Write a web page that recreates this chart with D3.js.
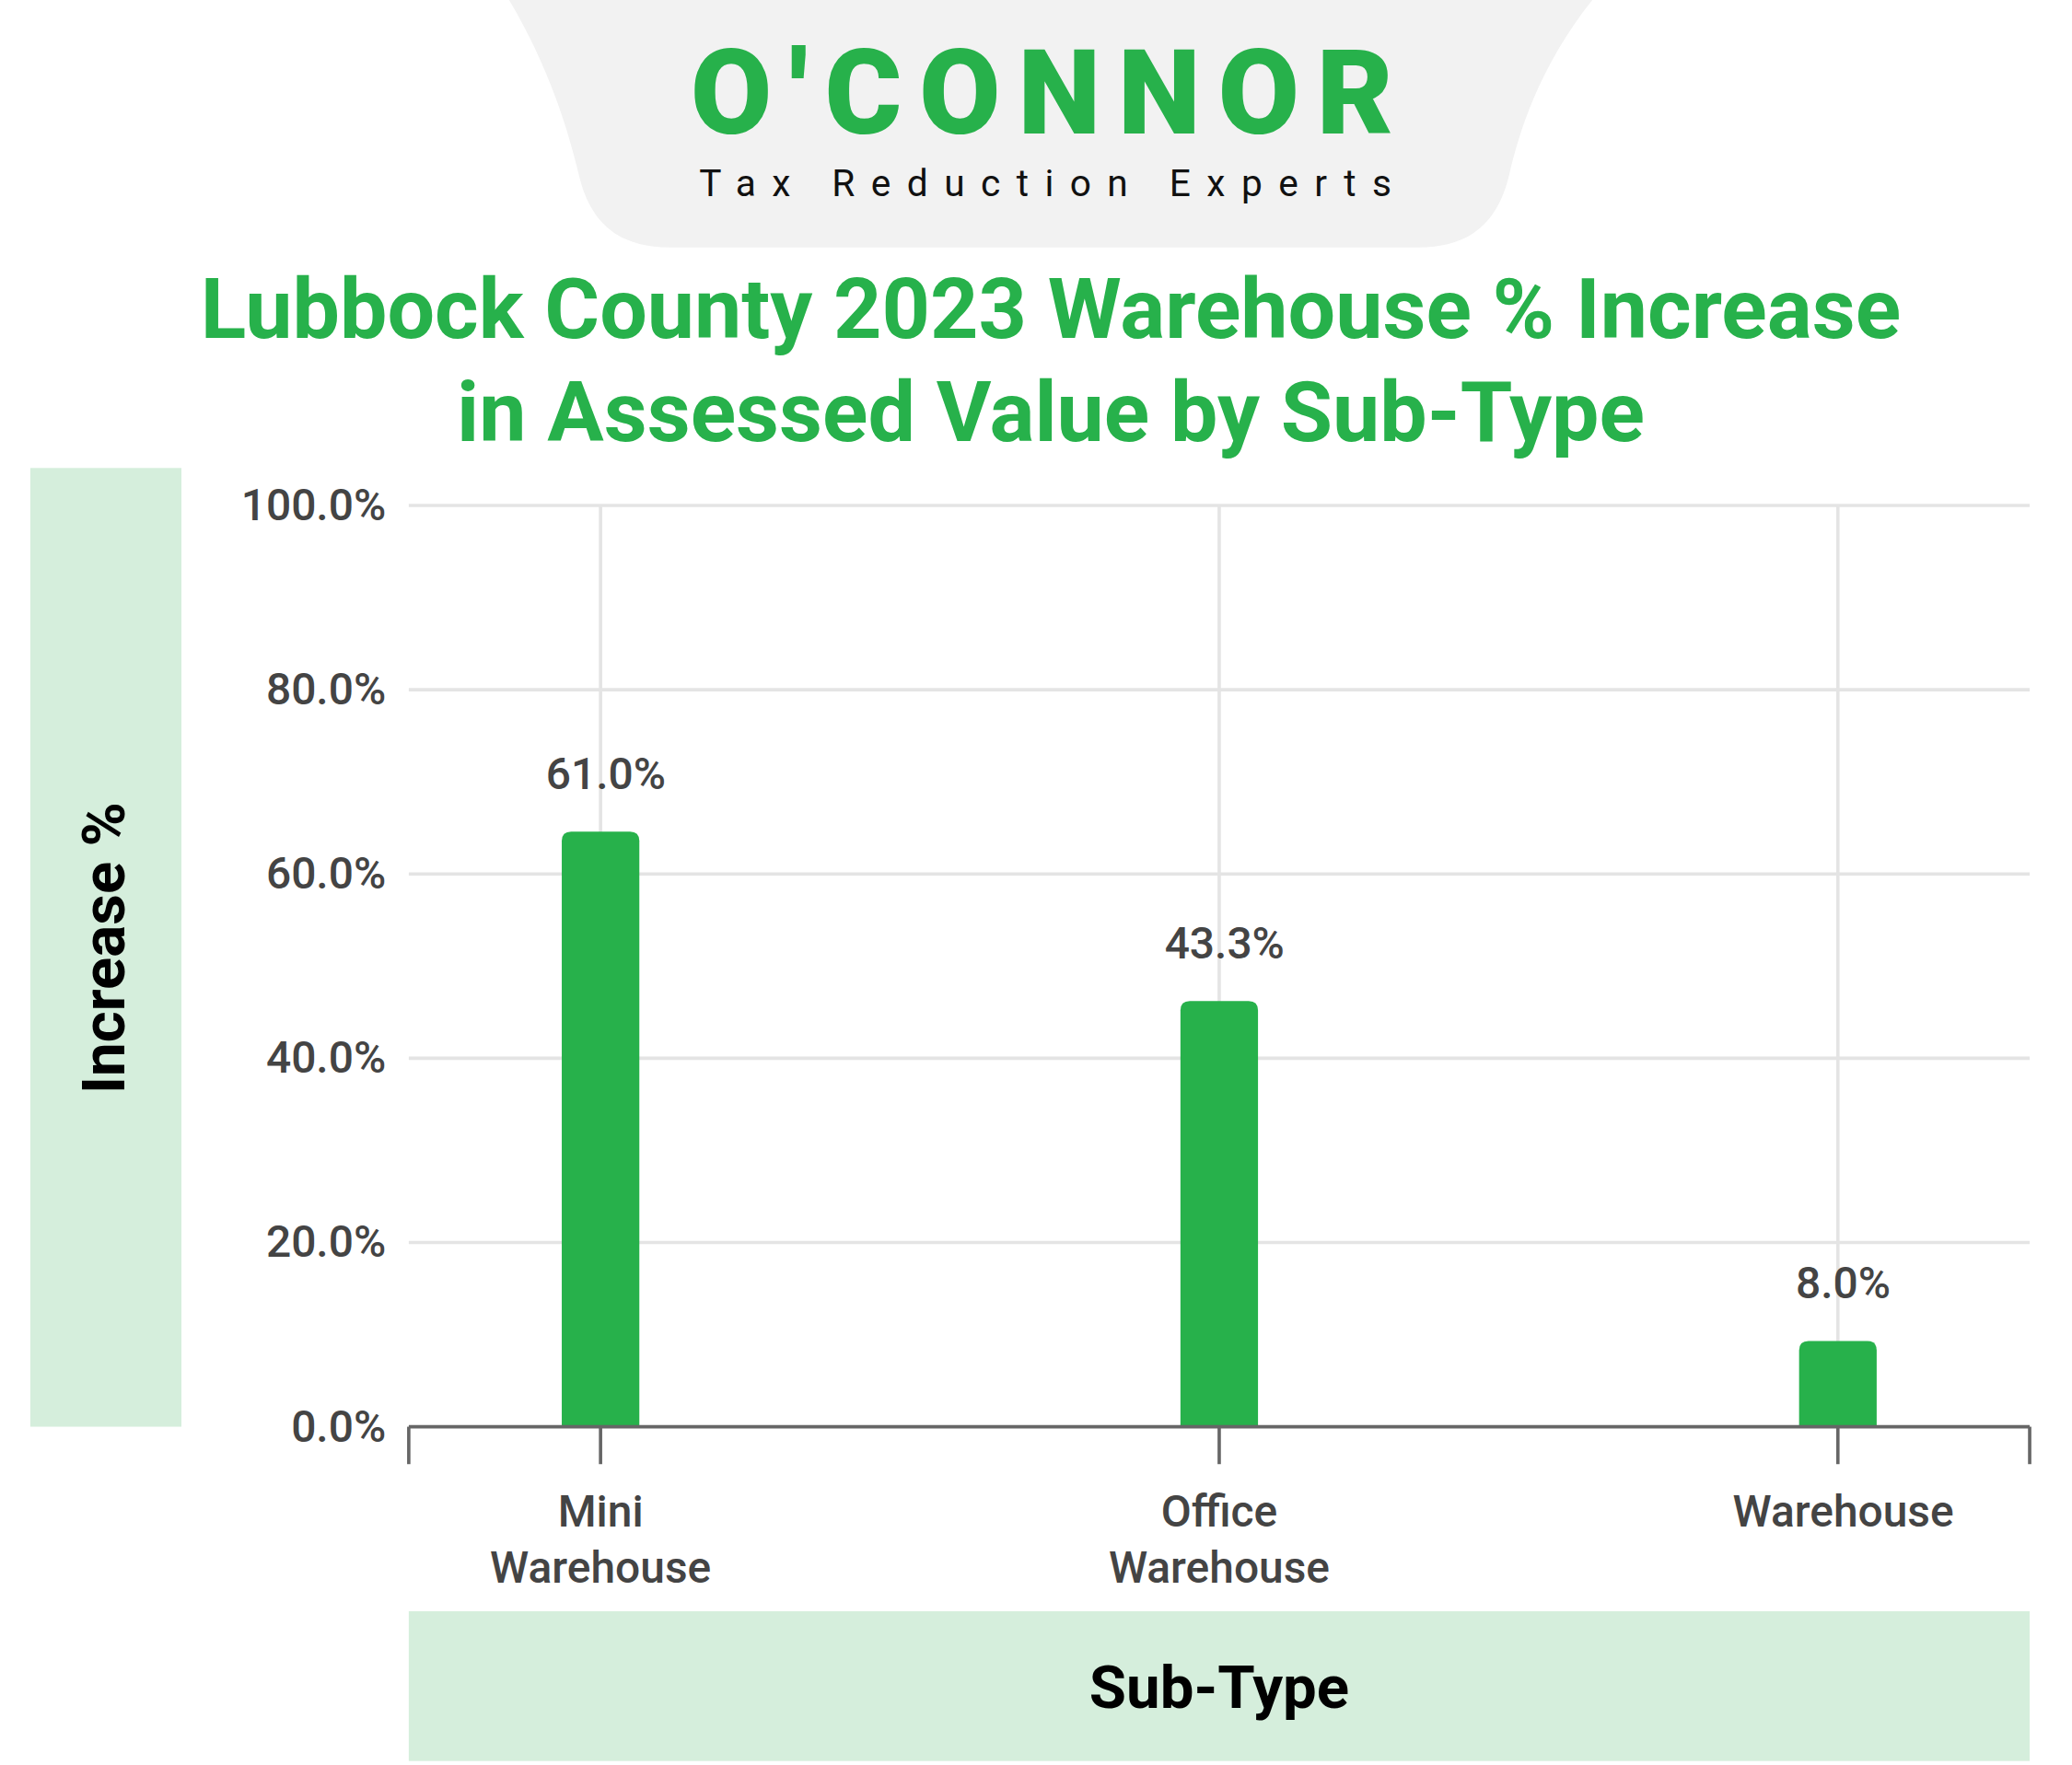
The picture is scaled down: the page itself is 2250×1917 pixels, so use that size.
<!DOCTYPE html>
<html><head><meta charset="utf-8">
<script src="https://cdn.jsdelivr.net/npm/d3@7"></script>
<style>body{margin:0;background:#fff}</style>
</head><body>
<div id="chart"></div>
<script>
const categories = [["Mini", "Warehouse"], ["Office", "Warehouse"], ["Warehouse"]];
const barValues = [64.6, 46.2, 9.3];      // bar heights as drawn
const valueLabels = ["61.0%", "43.3%", "8.0%"];
const yTicks = [0, 20, 40, 60, 80, 100];

const W = 1548, H = 1320;
const green = "#27b14b", pale = "#d5eedc";
const svg = d3.select("#chart").append("svg")
    .attr("width", 2250).attr("height", 1917)
    .attr("viewBox", `0 0 ${W} ${H}`)
    .style("font-family", "Roboto, sans-serif");

/* logo header */
svg.append("path")
    .attr("d", "M380,0 L1190,0 C1150,50 1135,100 1128,130 C1120,165 1100,185 1060,185 L500,185 C460,185 440,165 432,130 C425,100 410,50 380,0 Z")
    .attr("fill", "#f2f2f2");
svg.append("text").attr("x", 785).attr("y", 100).attr("text-anchor", "middle")
    .attr("font-size", 88).attr("font-weight", 900).attr("fill", green)
    .attr("letter-spacing", 13).text("O'CONNOR");
svg.append("text").attr("x", 787).attr("y", 147).attr("text-anchor", "middle")
    .attr("font-size", 28).attr("fill", "#111").attr("letter-spacing", 12)
    .text("Tax Reduction Experts");

/* title */
const title = svg.append("text").attr("text-anchor", "middle")
    .attr("font-size", 63).attr("font-weight", 700).attr("fill", green);
title.append("tspan").attr("x", 785).attr("y", 253).text("Lubbock County 2023 Warehouse % Increase");
title.append("tspan").attr("x", 785).attr("y", 330).text("in Assessed Value by Sub-Type");

/* axis title boxes */
svg.append("rect").attr("x", 22).attr("y", 350).attr("width", 113).attr("height", 717).attr("fill", pale);
svg.append("text").attr("transform", "translate(92,709) rotate(-90)").attr("text-anchor", "middle")
    .attr("font-size", 45).attr("font-weight", 700).attr("fill", "#000").text("Increase %");
svg.append("rect").attr("x", 305).attr("y", 1205).attr("width", 1212).attr("height", 112).attr("fill", pale);
svg.append("text").attr("x", 911).attr("y", 1277).attr("text-anchor", "middle")
    .attr("font-size", 45).attr("font-weight", 700).attr("fill", "#000").text("Sub-Type");

/* scales */
const plotLeft = 305, plotRight = 1517, plotTop = 378, plotBottom = 1067;
const x = d3.scalePoint().domain(d3.range(categories.length)).range([plotLeft, plotRight]).padding(0.31);
const y = d3.scaleLinear().domain([0, 100]).range([plotBottom, plotTop]);

/* grid */
svg.append("g").selectAll("line").data(yTicks.slice(1)).join("line")
    .attr("x1", plotLeft).attr("x2", plotRight).attr("y1", d => y(d)).attr("y2", d => y(d))
    .attr("stroke", "#e4e4e4").attr("stroke-width", 2.5);
svg.append("g").selectAll("line").data(d3.range(categories.length)).join("line")
    .attr("x1", d => x(d)).attr("x2", d => x(d)).attr("y1", plotTop).attr("y2", plotBottom)
    .attr("stroke", "#e4e4e4").attr("stroke-width", 2.5);

/* y tick labels */
svg.append("g").selectAll("text").data(yTicks).join("text")
    .attr("x", 288).attr("y", d => y(d) + 11).attr("text-anchor", "end")
    .attr("font-size", 33).attr("font-weight", 500).attr("fill", "#444")
    .text(d => d.toFixed(1) + "%");

/* bars */
const bw = 58;
svg.append("g").selectAll("path").data(barValues).join("path")
    .attr("d", (d, i) => {
        const x0 = x(i) - bw / 2, y0 = y(d), r = 7;
        return `M${x0},${plotBottom} V${y0 + r} Q${x0},${y0} ${x0 + r},${y0} H${x0 + bw - r} Q${x0 + bw},${y0} ${x0 + bw},${y0 + r} V${plotBottom} Z`;
    })
    .attr("fill", green);
svg.append("g").selectAll("text").data(barValues).join("text")
    .attr("x", (d, i) => x(i) + 4).attr("y", d => y(d) - 32).attr("text-anchor", "middle")
    .attr("font-size", 33).attr("font-weight", 500).attr("fill", "#444")
    .text((d, i) => valueLabels[i]);

/* x axis */
const ax = svg.append("g").attr("stroke", "#666").attr("stroke-width", 2.5);
ax.append("line").attr("x1", plotLeft).attr("x2", plotRight).attr("y1", plotBottom).attr("y2", plotBottom);
[plotLeft, plotRight].concat(d3.range(categories.length).map(x)).forEach(px =>
    ax.append("line").attr("x1", px).attr("x2", px).attr("y1", plotBottom).attr("y2", plotBottom + 28));
svg.append("g").selectAll("text").data(categories).join("text")
    .attr("text-anchor", "middle").attr("font-size", 33).attr("font-weight", 500).attr("fill", "#444")
    .each(function (d, i) {
        d3.select(this).selectAll("tspan").data(d).join("tspan")
            .attr("x", x(i) + (d.length === 1 ? 4 : 0)).attr("y", (t, j) => 1142 + j * 42).text(t => t);
    });
</script>
</body></html>
